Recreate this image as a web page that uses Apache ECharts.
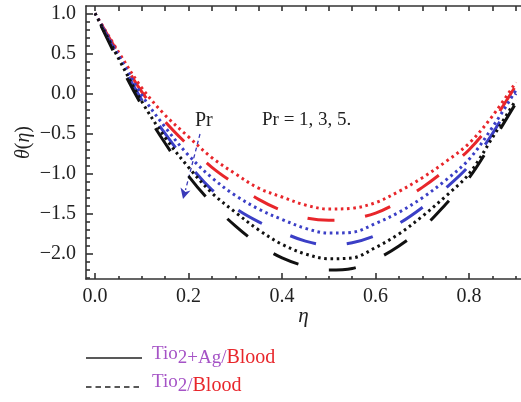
<!DOCTYPE html>
<html><head><meta charset="utf-8">
<script src="https://cdn.jsdelivr.net/npm/echarts@6/dist/echarts.min.js"></script>
<style>html,body{margin:0;padding:0;background:#fff}#c{width:521px;height:402px}</style>
</head><body><div id="c"></div>
<script>
// eta grid
const eta = [0,0.05,0.1,0.15,0.2,0.25,0.3,0.35,0.4,0.45,0.5,0.55,0.6,0.65,0.7,0.75,0.8,0.85,0.9];
// red (Pr = 1)
const redDotted  = [1,0.52,0.07,-0.27,-0.54,-0.80,-1.00,-1.18,-1.29,-1.39,-1.44,-1.43,-1.36,-1.22,-1.05,-0.85,-0.62,-0.28,0.14];
const redDashed  = [1,0.50,0.02,-0.35,-0.65,-0.92,-1.13,-1.32,-1.46,-1.55,-1.58,-1.56,-1.49,-1.35,-1.17,-0.95,-0.70,-0.35,0.10];
// blue (Pr = 3)
const blueDotted = [1,0.48,-0.02,-0.42,-0.77,-1.05,-1.27,-1.44,-1.57,-1.68,-1.74,-1.73,-1.62,-1.48,-1.30,-1.08,-0.82,-0.42,0.04];
const blueDashed = [1,0.45,-0.08,-0.50,-0.88,-1.20,-1.43,-1.60,-1.73,-1.84,-1.89,-1.86,-1.77,-1.62,-1.42,-1.18,-0.90,-0.50,0.00];
// black (Pr = 5)
const blackDotted = [1,0.44,-0.10,-0.55,-0.92,-1.24,-1.48,-1.70,-1.88,-2.00,-2.06,-2.05,-1.92,-1.75,-1.53,-1.28,-1.00,-0.55,-0.08];
const blackDashed = [1,0.40,-0.15,-0.62,-1.03,-1.37,-1.65,-1.88,-2.05,-2.15,-2.20,-2.18,-2.07,-1.90,-1.68,-1.38,-1.05,-0.60,-0.12];
// ticks
const xMajor = [0,0.2,0.4,0.6,0.8];
const xMinor = [0.05,0.1,0.15,0.25,0.3,0.35,0.45,0.5,0.55,0.65,0.7,0.75,0.85,0.9];
const xTop = [0,0.05,0.1,0.15,0.2,0.25,0.3,0.35,0.4,0.45,0.5,0.55,0.6,0.65,0.7,0.75,0.8,0.85,0.9];
const yMajor = [-2,-1.5,-1,-0.5,0,0.5,1];
const yMinor = [-2.3,-2.2,-2.1,-1.9,-1.8,-1.7,-1.6,-1.4,-1.3,-1.2,-1.1,-0.9,-0.8,-0.7,-0.6,-0.4,-0.3,-0.2,-0.1,0.1,0.2,0.3,0.4,0.6,0.7,0.8,0.9];

const RED='#e8262b', BLUE='#3b3fc6', BLACK='#111111', PURPLE='#a553c6';
const FONT='"Liberation Serif","DejaVu Serif",serif';
const XMIN=-0.0193, XMAX=0.911, YMIN=-2.312, YMAX=1.091;
const fmt = v => (Math.abs(v)<1e-9?0:v).toFixed(1).replace('-', '\u2212');

function mk(name, ys, color, dotted){
  return {
    name, type:'line', xAxisIndex:0, yAxisIndex:0, smooth:0.35, symbol:'none',
    data: eta.map((x,i)=>[x, ys[i]]),
    lineStyle: dotted ? {color, width:3, type:[2.6,3.6], cap:'butt'} : {color, width:3, type:[27,31], dashOffset:-14, cap:'butt'},
    z: dotted?3:2
  };
}

const chart = echarts.init(document.getElementById('c'), null, {renderer:'canvas'});
const axisLineStyle = {color:'#333', width:1.6};
chart.setOption({
  animation:false,
  grid:{left:86, top:6, right:0, bottom:123, containLabel:false},
  xAxis:[
    {type:'value', min:XMIN, max:XMAX, position:'bottom',
     axisLine:{show:true, onZero:false, lineStyle:axisLineStyle},
     axisTick:{show:true, inside:true, length:6, customValues:xMajor, lineStyle:axisLineStyle},
     axisLabel:{show:true, customValues:xMajor, formatter:fmt, fontFamily:FONT, fontSize:20, color:'#222', margin:8},
     splitLine:{show:false},
     name:'\u03b7', nameLocation:'middle', nameGap:27, nameMoveOverlap:false,
     nameTextStyle:{fontFamily:FONT, fontSize:21, fontStyle:'italic', color:'#222'}},
    {type:'value', min:XMIN, max:XMAX, position:'bottom',
     axisLine:{show:false, onZero:false},
     axisTick:{show:true, inside:true, length:3, customValues:xMinor, lineStyle:axisLineStyle},
     axisLabel:{show:false}, splitLine:{show:false}},
    {type:'value', min:XMIN, max:XMAX, position:'top',
     axisLine:{show:true, onZero:false, lineStyle:axisLineStyle},
     axisTick:{show:true, inside:true, length:5, customValues:xTop, lineStyle:axisLineStyle},
     axisLabel:{show:false}, splitLine:{show:false}}
  ],
  yAxis:[
    {type:'value', min:YMIN, max:YMAX, position:'left',
     axisLine:{show:true, onZero:false, lineStyle:axisLineStyle},
     axisTick:{show:true, inside:true, length:7, customValues:yMajor, lineStyle:axisLineStyle},
     axisLabel:{show:true, customValues:yMajor, formatter:fmt, fontFamily:FONT, fontSize:20, color:'#222', margin:10},
     splitLine:{show:false},
     name:'{i|\u03b8}{n|(}{i|\u03b7}{n|)}', nameLocation:'middle', nameGap:52, nameRotate:90, nameMoveOverlap:false,
     nameTextStyle:{fontFamily:FONT, fontSize:20, color:'#222',
       rich:{i:{fontFamily:FONT, fontSize:20, fontStyle:'italic', color:'#222'}, n:{fontFamily:FONT, fontSize:20, color:'#222'}}}},
    {type:'value', min:YMIN, max:YMAX, position:'left',
     axisLine:{show:false, onZero:false},
     axisTick:{show:true, inside:true, length:4, customValues:yMinor, lineStyle:axisLineStyle},
     axisLabel:{show:false}, splitLine:{show:false}}
  ],
  series:[
    mk('Pr=1 dashed', redDashed, RED, false),
    mk('Pr=3 dashed', blueDashed, BLUE, false),
    mk('Pr=5 dashed', blackDashed, BLACK, false),
    mk('Pr=1 dotted', redDotted, RED, true),
    mk('Pr=3 dotted', blueDotted, BLUE, true),
    mk('Pr=5 dotted', blackDotted, BLACK, true)
  ],
  graphic:[
    {type:'text', left:195, top:111, style:{text:'Pr', font:'20px '+FONT, fill:'#222'}},
    {type:'text', left:262, top:111, style:{text:'Pr = 1, 3, 5.', font:'19px '+FONT, fill:'#222'}},
    {type:'line', shape:{x1:200, y1:134, x2:185.5, y2:190}, style:{stroke:'#3a3ab8', lineWidth:1.3, lineDash:[4,3]}},
    {type:'polygon', shape:{points:[[183,199],[180.5,187.5],[185.5,192],[190.5,190.5]]}, style:{fill:'#3a3ab8'}},
    {type:'line', shape:{x1:86, y1:358, x2:142, y2:358}, style:{stroke:'#222', lineWidth:1.5}},
    {type:'line', shape:{x1:86, y1:387, x2:142, y2:387}, style:{stroke:'#222', lineWidth:1.5, lineDash:[5.5,4]}},
    {type:'text', left:152, top:345, style:{text:'{a|Tio}{b|2+Ag/}{c|Blood}',
      rich:{a:{font:'19px '+FONT, fill:PURPLE, padding:[0,0,7,0]},
            b:{font:'19px '+FONT, fill:PURPLE},
            c:{font:'20px '+FONT, fill:RED}}}},
    {type:'text', left:152, top:373, style:{text:'{a|Tio}{b|2/}{c|Blood}',
      rich:{a:{font:'19px '+FONT, fill:PURPLE, padding:[0,0,7,0]},
            b:{font:'19px '+FONT, fill:PURPLE},
            c:{font:'20px '+FONT, fill:RED}}}}
  ]
});
</script></body></html>
